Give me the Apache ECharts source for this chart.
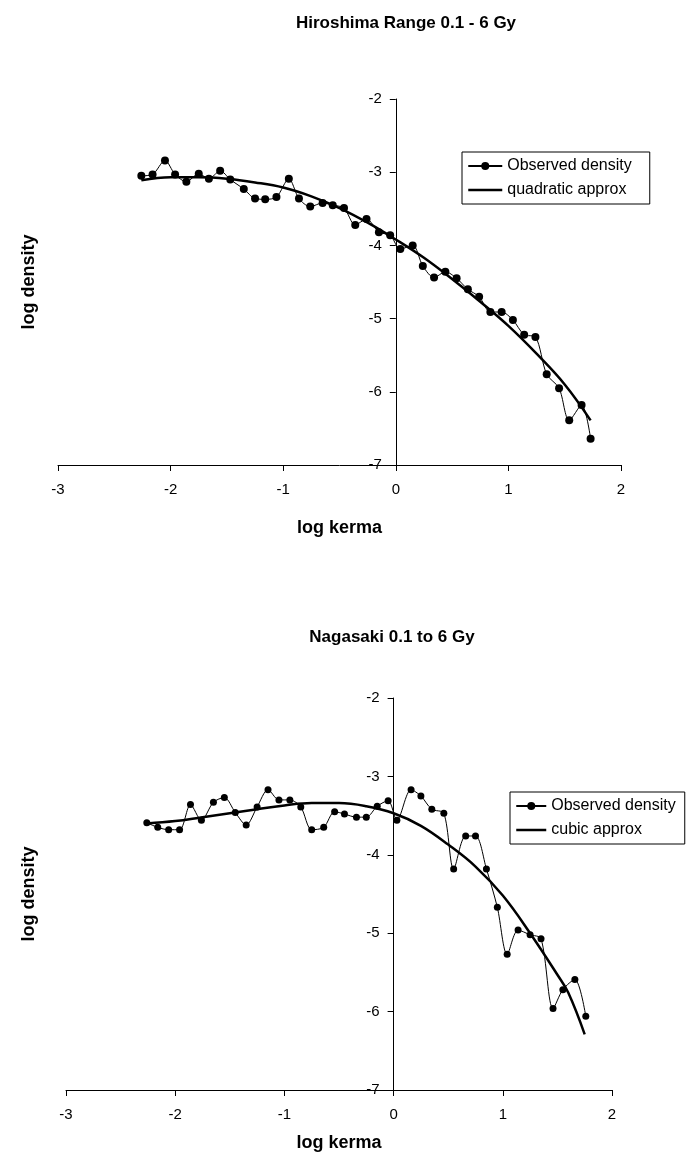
<!DOCTYPE html>
<html>
<head>
    <meta charset="utf-8">
    <title>log density vs log kerma</title>
    <script src="https://cdn.jsdelivr.net/npm/echarts@6/dist/echarts.min.js"></script>
    <style>
        html, body { margin: 0; padding: 0; background: #fff; }
    </style>
</head>
<body>
<div id="main" style="width: 691px;height:1158px"></div>
<script type="text/javascript">
    // Hiroshima, observed points (log kerma, log density)
    var hiroX = [-2.26, -2.16, -2.05, -1.96, -1.86, -1.75, -1.66, -1.56, -1.47, -1.35, -1.25, -1.16, -1.06, -0.95,
        -0.86, -0.76, -0.65, -0.56, -0.46, -0.36, -0.26, -0.15, -0.05, 0.04, 0.15, 0.24, 0.34, 0.44, 0.54, 0.64,
        0.74, 0.84, 0.94, 1.04, 1.14, 1.24, 1.34, 1.45, 1.54, 1.65, 1.73];
    var hiroObs = [-3.05, -3.03, -2.84, -3.03, -3.13, -3.02, -3.09, -2.98, -3.10, -3.23, -3.36, -3.37, -3.34, -3.09,
        -3.36, -3.47, -3.42, -3.45, -3.49, -3.72, -3.64, -3.82, -3.86, -4.05, -4.00, -4.28, -4.44, -4.36, -4.45, -4.60,
        -4.70, -4.91, -4.91, -5.02, -5.22, -5.25, -5.76, -5.95, -6.39, -6.18, -6.64];
    // Hiroshima, quadratic approx curve
    var quadX = [-2.26, -2.0, -1.75, -1.5, -1.25, -1.0, -0.75, -0.5, -0.25, 0.0, 0.25, 0.5, 0.75, 1.0, 1.25, 1.5, 1.73];
    var quadY = [-3.11, -3.07, -3.07, -3.09, -3.14, -3.21, -3.33, -3.49, -3.69, -3.92, -4.17, -4.46, -4.77, -5.10, -5.48, -5.90, -6.39];

    // Nagasaki, observed points
    var nagaX = [-2.26, -2.16, -2.06, -1.96, -1.86, -1.76, -1.65, -1.55, -1.45, -1.35, -1.25, -1.15, -1.05, -0.95,
        -0.85, -0.75, -0.64, -0.54, -0.45, -0.34, -0.25, -0.15, -0.05, 0.03, 0.16, 0.25, 0.35, 0.46, 0.55, 0.66,
        0.75, 0.85, 0.95, 1.04, 1.14, 1.25, 1.35, 1.46, 1.55, 1.66, 1.76];
    var nagaObs = [-3.59, -3.65, -3.68, -3.68, -3.36, -3.56, -3.33, -3.27, -3.46, -3.62, -3.39, -3.17, -3.30, -3.30,
        -3.39, -3.68, -3.65, -3.45, -3.48, -3.52, -3.52, -3.38, -3.31, -3.56, -3.17, -3.25, -3.42, -3.47, -4.18, -3.76,
        -3.76, -4.18, -4.67, -5.27, -4.96, -5.02, -5.07, -5.96, -5.72, -5.59, -6.06];
    // Nagasaki, cubic approx curve
    var cubicX = [-2.26, -2.0, -1.75, -1.5, -1.25, -1.0, -0.75, -0.5, -0.25, 0.0, 0.25, 0.5, 0.75, 1.0, 1.25, 1.5, 1.6, 1.75];
    var cubicY = [-3.60, -3.57, -3.52, -3.47, -3.42, -3.37, -3.34, -3.34, -3.38, -3.47, -3.63, -3.87, -4.15, -4.52, -5.00, -5.53, -5.76, -6.29];

    var xTicks = [-3, 2];   // x range
    var yTicks = [-7, -2];  // y range

    var FONT = "'Liberation Sans', Arial, sans-serif";

    function pairs(xs, ys) {
        return xs.map(function (x, i) { return [x, ys[i]]; });
    }

    function makeX(idx, gap) {
        return {
            type: 'value', gridIndex: idx, min: xTicks[0], max: xTicks[1], interval: 1,
            name: 'log kerma', nameLocation: 'middle', nameGap: gap,
            nameTextStyle: {fontSize: 18, fontWeight: 'bold', color: '#000', fontFamily: FONT},
            axisLine: {onZero: false, lineStyle: {color: '#000', width: 1}},
            axisTick: {show: true, length: 6, lineStyle: {color: '#000'}},
            axisLabel: {fontSize: 15, color: '#000', margin: 17, fontFamily: FONT},
            splitLine: {show: false}
        };
    }

    // y axis sits at log kerma = 0, i.e. 3 of the 5 x units right of the grid's left edge
    function makeY(idx, gap, shift) {
        return {
            type: 'value', gridIndex: idx, min: yTicks[0], max: yTicks[1], interval: 1,
            offset: -shift,
            name: 'log density', nameLocation: 'middle', nameGap: gap,
            nameTextStyle: {fontSize: 18, fontWeight: 'bold', color: '#000', fontFamily: FONT},
            axisLine: {onZero: false, lineStyle: {color: '#000', width: 1}},
            axisTick: {show: true, length: 6, lineStyle: {color: '#000'}},
            axisLabel: {fontSize: 15, color: '#000', margin: 14, fontFamily: FONT},
            splitLine: {show: false}
        };
    }

    function makeLegend(fitName, left, top, iw, padRight) {
        return {
            data: ['Observed density', {name: fitName, itemStyle: {opacity: 0}, lineStyle: {width: 2.5}}],
            orient: 'vertical', left: left, top: top,
            selectedMode: false,
            backgroundColor: '#fff', borderColor: '#000', borderWidth: 1, borderRadius: 0,
            padding: [6, padRight, 6, 5], itemWidth: iw, itemHeight: 10, itemGap: 8,
            textStyle: {fontSize: 16, color: '#000', fontFamily: FONT}
        };
    }

    var myChart = echarts.init(document.getElementById('main'));
    var option = {
        backgroundColor: '#fff',
        animation: false,
        title: [
            {text: 'Hiroshima Range 0.1 - 6 Gy', left: 401, top: 10, textAlign: 'center',
                textStyle: {fontSize: 17, fontWeight: 'bold', color: '#000', fontFamily: FONT}},
            {text: 'Nagasaki 0.1 to 6 Gy', left: 387, top: 624, textAlign: 'center',
                textStyle: {fontSize: 17, fontWeight: 'bold', color: '#000', fontFamily: FONT}}
        ],
        legend: [
            makeLegend('quadratic approx', 462, 152, 34, 18),
            makeLegend('cubic approx', 510, 792, 30, 9)
        ],
        grid: [
            {left: 58, right: 70, top: 99, bottom: 693, containLabel: false, outerBoundsMode: 'none'},
            {left: 66, right: 79, top: 698, bottom: 68, containLabel: false, outerBoundsMode: 'none'}
        ],
        xAxis: [makeX(0, 54), makeX(1, 44)],
        yAxis: [makeY(0, 358, 337.8), makeY(1, 356, 327.6)],
        series: [
            {
                name: 'Observed density', type: 'line', xAxisIndex: 0, yAxisIndex: 0,
                data: pairs(hiroX, hiroObs), smooth: 0.3,
                symbol: 'circle', symbolSize: 8,
                lineStyle: {color: '#000', width: 1}, itemStyle: {color: '#000'}
            },
            {
                name: 'quadratic approx', type: 'line', xAxisIndex: 0, yAxisIndex: 0,
                data: pairs(quadX, quadY), smooth: 0.4, symbol: 'none',
                lineStyle: {color: '#000', width: 2.5}, itemStyle: {color: '#000'}
            },
            {
                name: 'Observed density', type: 'line', xAxisIndex: 1, yAxisIndex: 1,
                data: pairs(nagaX, nagaObs), smooth: 0.3,
                symbol: 'circle', symbolSize: 7,
                lineStyle: {color: '#000', width: 1}, itemStyle: {color: '#000'}
            },
            {
                name: 'cubic approx', type: 'line', xAxisIndex: 1, yAxisIndex: 1,
                data: pairs(cubicX, cubicY), smooth: 0.4, symbol: 'none',
                lineStyle: {color: '#000', width: 2.5}, itemStyle: {color: '#000'}
            }
        ]
    };
    myChart.setOption(option);
</script>
</body>
</html>
